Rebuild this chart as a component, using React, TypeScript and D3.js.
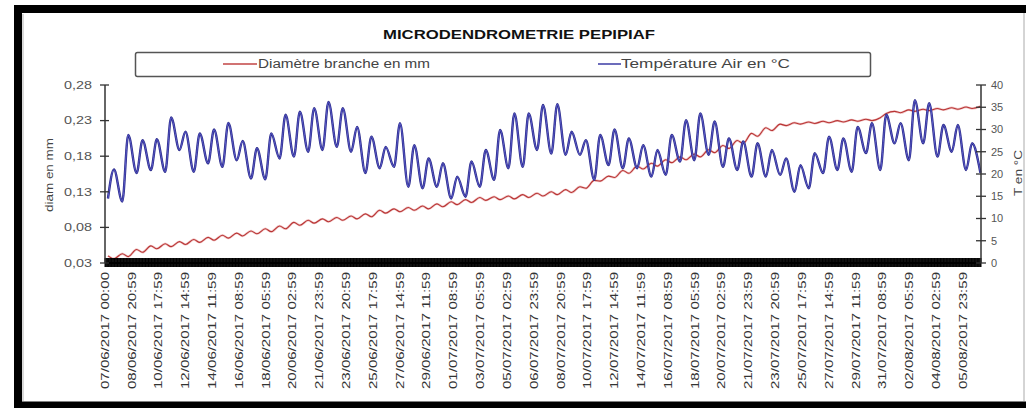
import React from "react";
import * as d3 from "d3";

// X-axis category labels (one every 45 hourly readings)
const xLabels: string[] = [
  "07/06/2017 00:00", "08/06/2017 20:59", "10/06/2017 17:59", "12/06/2017 14:59",
  "14/06/2017 11:59", "16/06/2017 08:59", "18/06/2017 05:59", "20/06/2017 02:59",
  "21/06/2017 23:59", "23/06/2017 20:59", "25/06/2017 17:59", "27/06/2017 14:59",
  "29/06/2017 11:59", "01/07/2017 08:59", "03/07/2017 05:59", "05/07/2017 02:59",
  "06/07/2017 23:59", "08/07/2017 20:59", "10/07/2017 17:59", "12/07/2017 14:59",
  "14/07/2017 11:59", "16/07/2017 08:59", "18/07/2017 05:59", "20/07/2017 02:59",
  "21/07/2017 23:59", "23/07/2017 20:59", "25/07/2017 17:59", "27/07/2017 14:59",
  "29/07/2017 11:59", "31/07/2017 08:59", "02/08/2017 05:59", "04/08/2017 02:59",
  "05/08/2017 23:59",
];
const LABEL_STEP = 45;
const HOURS_TOTAL = 1470;
const HOUR_MORNING = 5;
const HOUR_AFTERNOON = 15;

const leftTicks: number[] = [0.03, 0.08, 0.13, 0.18, 0.23, 0.28];
const rightTicks: number[] = [0, 5, 10, 15, 20, 25, 30, 35, 40];

// Daily air temperature (°C): morning minimum and afternoon maximum
const tempMin: number[] = [
  14.5, 13.8, 20.2, 20.9, 20.5, 25.4, 20.5, 22.4, 21.6, 23.1,
  19.0, 18.8, 23.5, 23.9, 25.0, 25.4, 26.1, 25.0, 20.2, 21.3,
  21.6, 17.1, 16.8, 17.1, 14.5, 14.9, 17.1, 18.7, 21.3, 21.6,
  25.4, 24.6, 24.3, 24.3, 18.7, 22.0, 21.3, 21.3, 19.4, 19.8,
  22.8, 23.1, 24.3, 21.6, 20.9, 19.4, 19.4, 19.8, 16.0, 16.8,
  20.2, 20.9, 20.5, 24.7, 20.9, 26.9, 23.1, 26.9, 23.9, 25.0,
  20.9, 20.3,
];
const tempMax: (number | null)[] = [
  21.0, 28.8, 27.6, 27.8, 32.7, 29.5, 29.1, 30.0, 31.5, 27.4,
  25.8, 29.1, 33.3, 34.0, 34.8, 36.2, 34.8, 30.6, 28.4, 26.1,
  31.4, 26.5, 23.5, 22.4, 19.4, 22.8, 25.4, 29.9, 33.6, 33.6,
  35.5, 35.7, 29.5, 27.6, 28.8, 30.0, 28.0, 26.5, 25.4, 28.8,
  32.1, 33.6, 31.8, 28.0, 27.3, 26.9, 25.4, 23.5, 22.0, 24.7,
  28.4, 28.0, 30.6, 31.4, 33.3, 31.4, 36.6, 35.9, 31.0, 31.0,
  26.9, null,
];

// Daily branch diameter (mm): morning (swollen) and afternoon (contracted)
const diamMorning: number[] = [
  0.040, 0.043, 0.049, 0.054, 0.057, 0.060, 0.063, 0.066, 0.069, 0.072,
  0.075, 0.078, 0.082, 0.087, 0.090, 0.092, 0.094, 0.096, 0.099, 0.104,
  0.106, 0.108, 0.110, 0.113, 0.116, 0.119, 0.122, 0.123, 0.124, 0.126,
  0.128, 0.130, 0.133, 0.137, 0.146, 0.152, 0.160, 0.166, 0.170, 0.175,
  0.179, 0.183, 0.189, 0.195, 0.202, 0.212, 0.220, 0.225, 0.227, 0.228,
  0.229, 0.230, 0.231, 0.232, 0.234, 0.243, 0.245, 0.246, 0.247, 0.248,
  0.249, 0.250,
];
const diamAfternoon: (number | null)[] = [
  0.036, 0.039, 0.045, 0.050, 0.053, 0.056, 0.059, 0.062, 0.065, 0.068,
  0.071, 0.074, 0.078, 0.083, 0.086, 0.088, 0.090, 0.092, 0.095, 0.100,
  0.102, 0.104, 0.106, 0.109, 0.112, 0.115, 0.118, 0.119, 0.120, 0.122,
  0.124, 0.126, 0.129, 0.135, 0.145, 0.150, 0.156, 0.162, 0.166, 0.171,
  0.175, 0.179, 0.185, 0.191, 0.198, 0.208, 0.216, 0.223, 0.225, 0.226,
  0.227, 0.228, 0.229, 0.230, 0.240, 0.241, 0.243, 0.244, 0.245, 0.246,
  0.247, null,
];

const FONT = "'Liberation Sans', Arial, sans-serif";

export default function App() {
  const W = 1026;
  const H = 408;
  const x0 = 105, x1 = 981, yT = 85, yB = 263;

  const x = d3.scaleLinear().domain([0, HOURS_TOTAL]).range([x0, x1]);
  const yL = d3.scaleLinear().domain([0.03, 0.28]).range([yB, yT]);
  const yR = d3.scaleLinear().domain([0, 40]).range([yB, yT]);

  const tempPts: [number, number][] = [];
  tempMin.forEach((v, d) => {
    tempPts.push([d * 24 + HOUR_MORNING, v]);
    const m = tempMax[d];
    if (m != null) tempPts.push([d * 24 + HOUR_AFTERNOON, m]);
  });
  const diamPts: [number, number][] = [];
  diamMorning.forEach((v, d) => {
    diamPts.push([d * 24 + HOUR_MORNING, v]);
    const m = diamAfternoon[d];
    if (m != null) diamPts.push([d * 24 + HOUR_AFTERNOON, m]);
  });

  const tempLine = d3.line<[number, number]>()
    .x((p) => x(p[0]))
    .y((p) => yR(p[1]))
    .curve(d3.curveMonotoneX);
  const diamLine = d3.line<[number, number]>()
    .x((p) => x(p[0]))
    .y((p) => yL(p[1]))
    .curve(d3.curveMonotoneX);

  const hourTicks = d3.range(0, HOURS_TOTAL + 1);

  return (
    <svg width={W} height={H} style={{ position: "absolute", left: 0, top: 0, background: "#fff" }}
      fontFamily={FONT}>
      <rect x={0} y={0} width={W} height={H} fill="#fff" />
      {/* frame */}
      <line x1={18} y1={5} x2={18} y2={408} stroke="#000" strokeWidth={8} />
      <line x1={14} y1={9} x2={1026} y2={9} stroke="#000" strokeWidth={8} />
      <line x1={14} y1={405} x2={1026} y2={405} stroke="#000" strokeWidth={7} />
      <line x1={1024} y1={13} x2={1024} y2={401} stroke="#aaa" strokeWidth={1} />
      <line x1={23} y1={14} x2={23} y2={401} stroke="#ccc" strokeWidth={1.5} />

      {/* title */}
      <text x={519} y={39} textAnchor="middle" fontSize={12.5} fontWeight="bold" fill="#111"
        textLength={272} lengthAdjust="spacingAndGlyphs">MICRODENDROMETRIE PEPIPIAF</text>

      {/* legend */}
      <rect x={135.5} y={52.5} width={735} height={24} rx={2} fill="#fff" stroke="#555" strokeWidth={1.5} />
      <line x1={223} x2={257} y1={64} y2={64} stroke="#c24545" strokeWidth={1.3} />
      <text x={258} y={68} fontSize={12} fill="#444" textLength={172} lengthAdjust="spacingAndGlyphs">Diamètre branche en mm</text>
      <line x1={598} x2={621} y1={64} y2={64} stroke="#3b3ba5" strokeWidth={1.5} />
      <text x={621} y={68} fontSize={12} fill="#444" textLength={169} lengthAdjust="spacingAndGlyphs">Température Air en °C</text>

      {/* series */}
      <path d={diamLine(diamPts) ?? ""} fill="none" stroke="#e8a0a0" strokeWidth={2.4} opacity={0.6} />
      <path d={diamLine(diamPts) ?? ""} fill="none" stroke="#b83434" strokeWidth={1.1} />
      <path d={tempLine(tempPts) ?? ""} fill="none" stroke="#2a2a8a" strokeWidth={2.4} />
      <path d={tempLine(tempPts) ?? ""} fill="none" stroke="#5a5ac8" strokeWidth={1} />

      {/* x axis: hourly tick marks form a black band */}
      <g stroke="#000" strokeWidth={1}>
        {hourTicks.map((h) => (
          <line key={h} x1={x(h)} x2={x(h)} y1={258} y2={267} />
        ))}
      </g>
      <line x1={x0} x2={x1} y1={yB} y2={yB} stroke="#000" strokeWidth={2} />

      {/* left axis */}
      <line x1={x0} x2={x0} y1={yT} y2={yB} stroke="#333" strokeWidth={1.5} />
      {leftTicks.map((t) => (
        <g key={t}>
          <line x1={x0 - 5} x2={x0 + 4} y1={yL(t)} y2={yL(t)} stroke="#333" strokeWidth={1.3} />
          <text x={92} y={yL(t)} dy="0.35em" textAnchor="end" fontSize={11} fill="#555"
            textLength={28} lengthAdjust="spacingAndGlyphs">{d3.format(".2f")(t).replace(".", ",")}</text>
        </g>
      ))}
      <text transform={`translate(49,175) rotate(-90)`} textAnchor="middle" dy="0.35em" fontSize={10.5}
        fill="#444" textLength={74} lengthAdjust="spacingAndGlyphs">diam en mm</text>

      {/* right axis */}
      <line x1={x1} x2={x1} y1={yT} y2={yB} stroke="#333" strokeWidth={1.5} />
      {rightTicks.map((t) => (
        <g key={t}>
          <line x1={x1 - 5} x2={x1 + 5} y1={yR(t)} y2={yR(t)} stroke="#333" strokeWidth={1.3} />
          <text x={991} y={yR(t)} dy="0.35em" textAnchor="start" fontSize={11} fill="#555">{t}</text>
        </g>
      ))}
      <text transform={`translate(1018,173) rotate(-90)`} textAnchor="middle" dy="0.35em" fontSize={10.5}
        fill="#444" textLength={46} lengthAdjust="spacingAndGlyphs">T en °C</text>

      {/* x labels */}
      {xLabels.map((lab, i) => (
        <text key={lab} transform={`translate(${x(i * LABEL_STEP)},272) rotate(-90)`} textAnchor="end"
          dy="0.35em" fontSize={10.5} fill="#333" textLength={117} lengthAdjust="spacingAndGlyphs">{lab}</text>
      ))}
    </svg>
  );
}
